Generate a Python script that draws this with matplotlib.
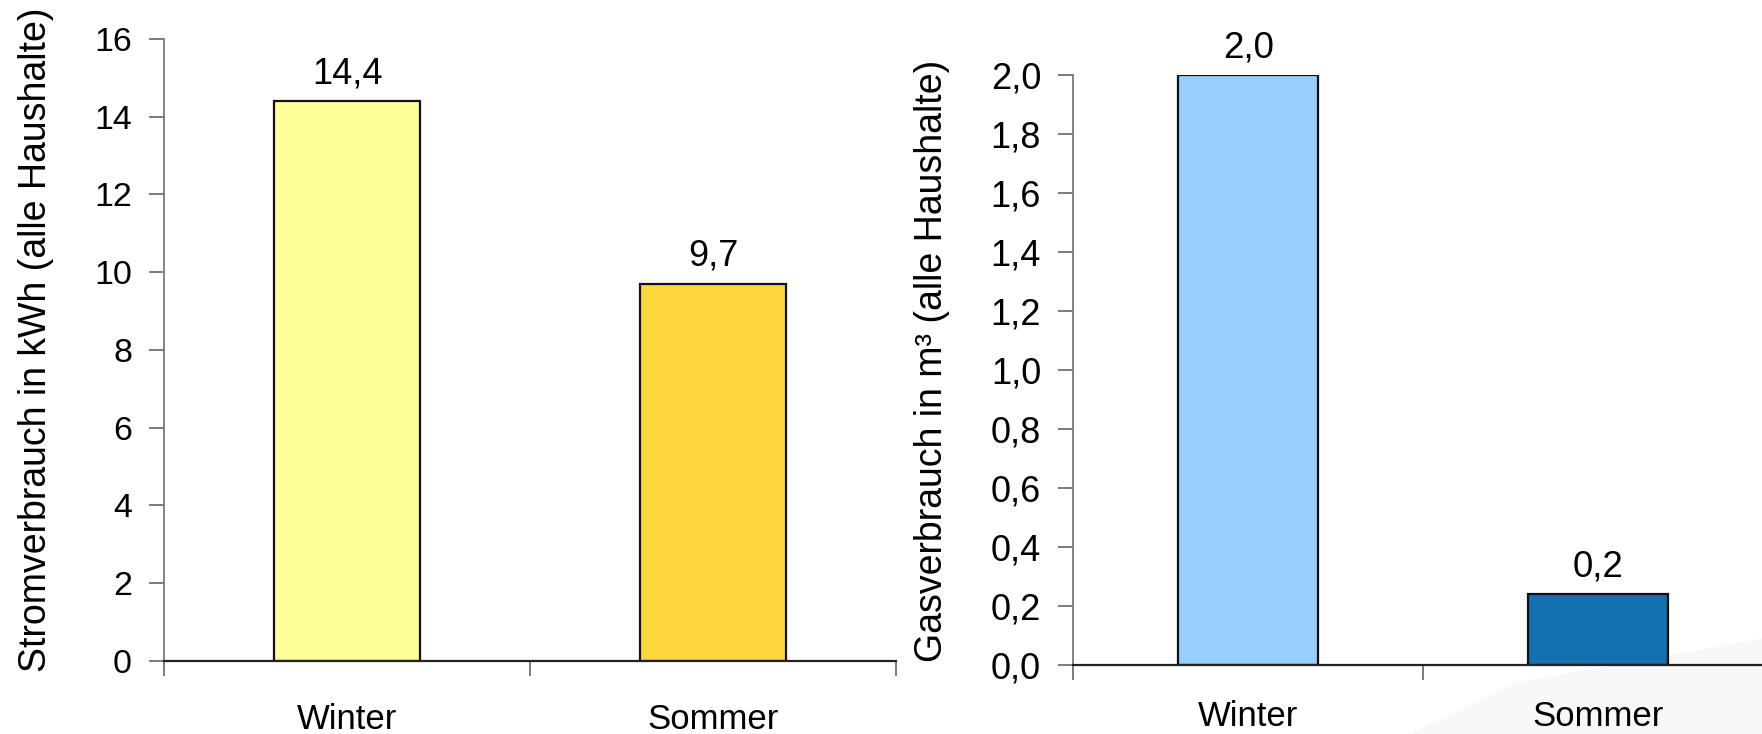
import matplotlib.pyplot as plt
from matplotlib.patches import Polygon

plt.rcParams['font.family'] = ['Liberation Sans', 'DejaVu Sans']

seasons = ["Winter", "Sommer"]
strom_kwh = [14.4, 9.7]
gas_m3 = [2.0, 0.24]
strom_colors = ["#FFFF99", "#FCD83C"]
gas_colors = ["#99CCFF", "#1371AF"]


def fmt(v, nd):
    return f"{v:.{nd}f}".replace(".", ",")


def bar_panel(ax, values, colors, ymax, ystep, nd, ylabel, fs, vfs, xpad):
    x = range(len(values))
    ax.bar(x, values, width=0.4, color=colors, edgecolor="#111111", linewidth=1.6, zorder=2)
    for xi, v in zip(x, values):
        ax.annotate(fmt(v, 1), (xi, v), xytext=(0, 10), textcoords="offset pixels",
                    ha="center", va="bottom", fontsize=vfs)
    ax.set_xlim(-0.5, len(values) - 0.5)
    ax.set_ylim(0, ymax)
    n = int(round(ymax / ystep))
    yt = [i * ystep for i in range(n + 1)]
    ax.set_yticks(yt)
    ax.set_yticklabels([fmt(t, nd) for t in yt])
    ax.set_xticks([i - 0.5 for i in range(len(values) + 1)])
    ax.set_xticklabels([])
    ax.set_xticks(list(x), minor=True)
    ax.set_xticklabels(seasons, minor=True)
    ax.tick_params(axis="x", which="major", length=11, width=1.2, color="#666666")
    ax.tick_params(axis="x", which="minor", length=0, pad=xpad, labelsize=25)
    ax.tick_params(axis="y", length=11, width=1.2, color="#666666", labelsize=fs, pad=12)
    for s in ["top", "right"]:
        ax.spines[s].set_visible(False)
    ax.spines["left"].set_color("#7a7a7a")
    ax.spines["bottom"].set_color("#222222")
    ax.spines["left"].set_linewidth(1.3)
    ax.spines["bottom"].set_linewidth(1.6)
    ax.set_ylabel(ylabel, fontsize=27, labelpad=29)
    ax.yaxis.label.set_y(0.516)


fig = plt.figure(figsize=(17.62, 7.34), dpi=100)

# faint background shape, bottom right
fig.patches.append(Polygon([[0.80, 0.0], [0.86, 0.07], [1.0, 0.13], [1.0, 0.0]],
                           closed=True, transform=fig.transFigure,
                           facecolor="#f8f8f8", edgecolor="none", zorder=-1))

ax1 = fig.add_axes([0.0931, 0.0995, 0.4154, 0.8474])
ax1.patch.set_alpha(0)
bar_panel(ax1, strom_kwh, strom_colors, 16, 2, 0,
          "Stromverbrauch in kWh (alle Haushalte)", 24.5, 26, 30)

ax2 = fig.add_axes([0.609, 0.094, 0.3973, 0.8038])
ax2.patch.set_alpha(0)
bar_panel(ax2, gas_m3, gas_colors, 2.0, 0.2, 1,
          "Gasverbrauch in m³ (alle Haushalte)", 26, 26.5, 25)

fig.savefig("out.png", dpi=100)
